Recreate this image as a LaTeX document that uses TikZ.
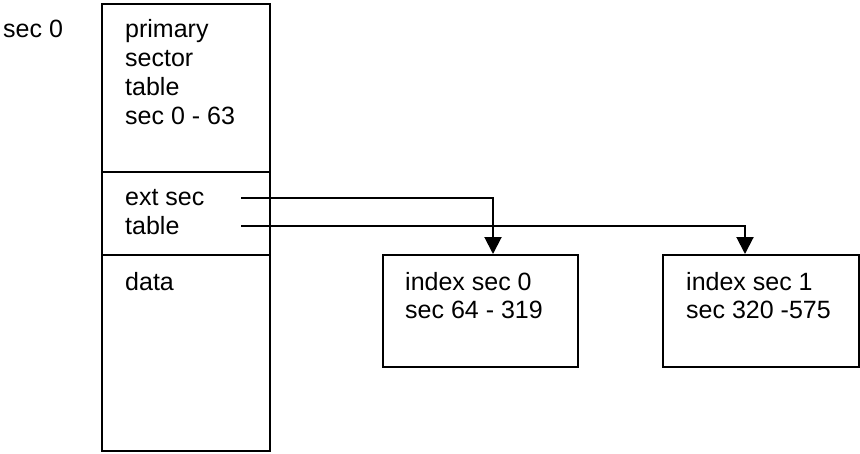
\documentclass[tikz,border=0pt]{standalone}
\usepackage{fontspec}
\setmainfont{Liberation Sans}
\usetikzlibrary{arrows.meta}
\begin{document}
\begin{tikzpicture}[x=1pt,y=-1pt,
  box/.style={draw,line width=2pt,inner sep=0pt,anchor=north west},
  lbl/.style={anchor=base west,inner sep=0pt,align=left,font=\fontsize{25}{29}\selectfont},
  conn/.style={line width=2pt,-{Triangle[length=17pt,width=17pt]}}]
\useasboundingbox (0,0) rectangle (860,453);
% left column
\node[box,minimum width=168pt,minimum height=168pt] (prim) at (101,3) {};
\node[box,minimum width=168pt,minimum height=83pt] (ext) at (101,171) {};
\node[box,minimum width=168pt,minimum height=196pt] (data) at (101,254) {};
% right boxes
\node[box,minimum width=195pt,minimum height=112pt] (idx0) at (382,254) {};
\node[box,minimum width=196pt,minimum height=112pt] (idx1) at (662,254) {};
% texts (anchor = baseline of last line)
\node[lbl] (sec0) at (3,37) {sec 0};
\node[lbl] (primt) at (125,124) {primary\\sector\\table\\sec 0 - 63};
\node[lbl] (extt) at (125,234) {ext sec\\table};
\node[lbl] (datat) at (125,290) {data};
\node[lbl,font=\fontsize{25}{28}\selectfont] (idx0t) at (405,318) {index sec 0\\sec 64 - 319};
\node[lbl,font=\fontsize{25}{28}\selectfont] (idx1t) at (686,318) {index sec 1\\sec 320 -575};
% connectors
\coordinate (s1) at (241,198);
\coordinate (s2) at (241,226);
\coordinate (t1) at (493,254);
\coordinate (t2) at (745,254);
\draw[conn] (s1) -| (t1);
\draw[conn] (s2) -| (t2);
\end{tikzpicture}
\end{document}
